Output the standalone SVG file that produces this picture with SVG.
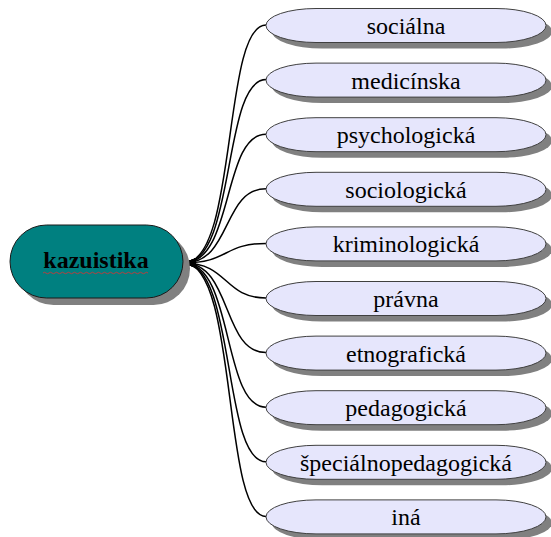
<svg xmlns="http://www.w3.org/2000/svg" width="551" height="537" viewBox="0 0 551 537">
<defs>
<style>
.leaf{fill:#e6e6fc;stroke:#404040;stroke-width:1}
.sh{fill:#808080}
.lt{font-family:"Liberation Serif","Times New Roman",serif;font-size:24px;fill:#000;text-anchor:middle}
.conn{fill:none;stroke:#000;stroke-width:1.5}
</style>
<marker id="ah" viewBox="0 0 12 10" refX="0" refY="5" markerWidth="12" markerHeight="10" markerUnits="userSpaceOnUse" orient="auto">
<path d="M12,0 L0,5 L12,10 z" fill="#000"/>
</marker>
</defs>
<rect width="551" height="537" fill="#fff"/>
<g id="connectors">
<path class="conn" marker-start="url(#ah)" d="M184,263 C238,263 222,25 266,25"/>
<path class="conn" marker-start="url(#ah)" d="M184,263 C236,263 222,79.6 266,79.6"/>
<path class="conn" marker-start="url(#ah)" d="M184,263 C234,263 222,134.2 266,134.2"/>
<path class="conn" marker-start="url(#ah)" d="M184,263 C232,263 222,188.8 266,188.8"/>
<path class="conn" marker-start="url(#ah)" d="M184,263 C228,263 224,243.4 266,243.4"/>
<path class="conn" marker-start="url(#ah)" d="M184,263 C228,263 224,298 266,298"/>
<path class="conn" marker-start="url(#ah)" d="M184,263 C232,263 222,352.6 266,352.6"/>
<path class="conn" marker-start="url(#ah)" d="M184,263 C234,263 222,407.2 266,407.2"/>
<path class="conn" marker-start="url(#ah)" d="M184,263 C236,263 222,461.8 266,461.8"/>
<path class="conn" marker-start="url(#ah)" d="M184,263 C238,263 222,516.4 266,516.4"/>
</g>
<g id="kazuistika">
<rect x="17" y="232" width="173" height="73" rx="36.5" ry="36.5" fill="#808080"/>
<rect x="10" y="225" width="173" height="73" rx="36.5" ry="36.5" fill="#008080" stroke="#1a1a1a" stroke-width="1"/>
<text x="96" y="268" font-family="'Liberation Serif','Times New Roman',serif" font-size="24" font-weight="bold" text-anchor="middle" fill="#000">kazuistika</text>
<path d="M43,273 q1.5,-1.5 3,0 t3,0 t3,0 t3,0 t3,0 t3,0 t3,0 t3,0 t3,0 t3,0 t3,0 t3,0 t3,0 t3,0 t3,0 t3,0 t3,0 t3,0 t3,0 t3,0 t3,0 t3,0 t3,0 t3,0 t3,0 t3,0 t3,0 t3,0 t3,0 t3,0 t3,0 t3,0 t3,0 t3,0 t3,0" fill="none" stroke="#e03030" stroke-width="0.8"/>
</g>
<g id="n1"><rect class="sh" x="272" y="14.5" width="280" height="34" rx="50" ry="17"/><rect class="leaf" x="266" y="8.5" width="280" height="34" rx="50" ry="17"/><text class="lt" x="406" y="34">sociálna</text></g>
<g id="n2"><rect class="sh" x="272" y="69.1" width="280" height="34" rx="50" ry="17"/><rect class="leaf" x="266" y="63.1" width="280" height="34" rx="50" ry="17"/><text class="lt" x="406" y="88.6">medicínska</text></g>
<g id="n3"><rect class="sh" x="272" y="123.7" width="280" height="34" rx="50" ry="17"/><rect class="leaf" x="266" y="117.7" width="280" height="34" rx="50" ry="17"/><text class="lt" x="406" y="143.2">psychologická</text></g>
<g id="n4"><rect class="sh" x="272" y="178.3" width="280" height="34" rx="50" ry="17"/><rect class="leaf" x="266" y="172.3" width="280" height="34" rx="50" ry="17"/><text class="lt" x="406" y="197.8">sociologická</text></g>
<g id="n5"><rect class="sh" x="272" y="232.9" width="280" height="34" rx="50" ry="17"/><rect class="leaf" x="266" y="226.9" width="280" height="34" rx="50" ry="17"/><text class="lt" x="406" y="252.4">kriminologická</text></g>
<g id="n6"><rect class="sh" x="272" y="287.5" width="280" height="34" rx="50" ry="17"/><rect class="leaf" x="266" y="281.5" width="280" height="34" rx="50" ry="17"/><text class="lt" x="406" y="307">právna</text></g>
<g id="n7"><rect class="sh" x="272" y="342.1" width="280" height="34" rx="50" ry="17"/><rect class="leaf" x="266" y="336.1" width="280" height="34" rx="50" ry="17"/><text class="lt" x="406" y="361.6">etnografická</text></g>
<g id="n8"><rect class="sh" x="272" y="396.7" width="280" height="34" rx="50" ry="17"/><rect class="leaf" x="266" y="390.7" width="280" height="34" rx="50" ry="17"/><text class="lt" x="406" y="416.2">pedagogická</text></g>
<g id="n9"><rect class="sh" x="272" y="451.3" width="280" height="34" rx="50" ry="17"/><rect class="leaf" x="266" y="445.3" width="280" height="34" rx="50" ry="17"/><text class="lt" x="406" y="470.8">špeciálnopedagogická</text></g>
<g id="n10"><rect class="sh" x="272" y="505.9" width="280" height="34" rx="50" ry="17"/><rect class="leaf" x="266" y="499.9" width="280" height="34" rx="50" ry="17"/><text class="lt" x="406" y="525.4">iná</text></g>
</svg>
